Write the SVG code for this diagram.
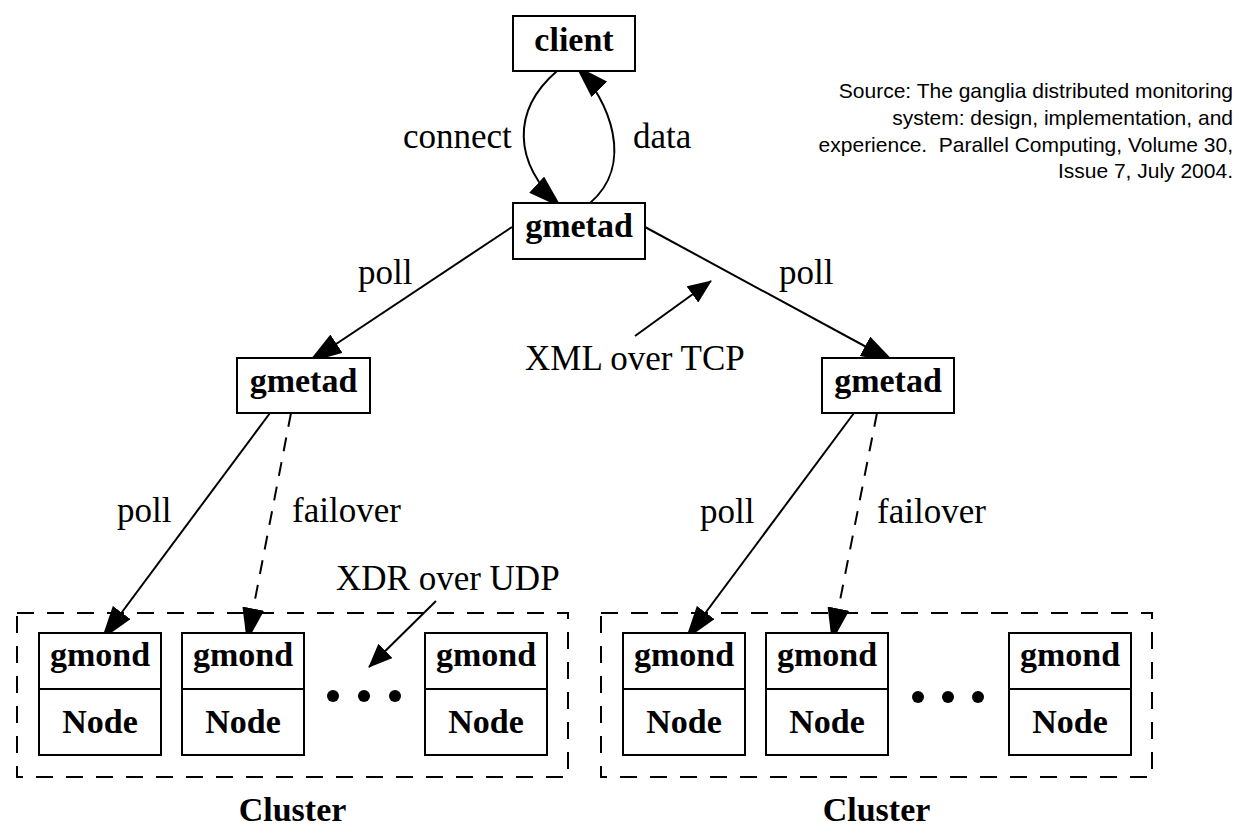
<svg xmlns="http://www.w3.org/2000/svg" width="1245" height="838" viewBox="0 0 1245 838">
<style>
.box{fill:#fff;stroke:#000;stroke-width:2}
.edge{fill:none;stroke:#000;stroke-width:2}
.dash{stroke-dasharray:14 11}
.cl{fill:none;stroke:#000;stroke-width:2;stroke-dasharray:17 13}
.lbl{font-family:"Liberation Serif","Times New Roman",serif;font-size:35px;fill:#000}
.b{font-family:"Liberation Serif","Times New Roman",serif;font-size:34px;font-weight:bold;fill:#000;text-anchor:middle}
.src{font-family:"Liberation Sans",Arial,sans-serif;font-size:21px;fill:#000;text-anchor:end}
</style>
<defs>
<marker id="ah" markerUnits="userSpaceOnUse" markerWidth="34" markerHeight="22" viewBox="0 0 34 22" refX="33" refY="11" orient="auto">
<path d="M0,0 L34,11 L0,22 z" fill="#000"/>
</marker>
<marker id="as" markerUnits="userSpaceOnUse" markerWidth="24" markerHeight="20" viewBox="0 0 24 20" refX="23" refY="10" orient="auto">
<path d="M0,0 L24,10 L0,20 z" fill="#000"/>
</marker>
</defs>
<rect width="1245" height="838" fill="#fff"/>

<g id="connectors">
<path class="edge" d="M557,71 C512,110 512,162 561,207" marker-end="url(#ah)"/>
<path class="edge" d="M590,203 C635,165 610,100 576,66" marker-end="url(#ah)"/>
<line class="edge" x1="512" y1="227" x2="309" y2="362" marker-end="url(#ah)"/>
<line class="edge" x1="645" y1="227" x2="894" y2="362" marker-end="url(#ah)"/>
<line class="edge" x1="270" y1="413" x2="102" y2="639" marker-end="url(#ah)"/>
<line class="edge dash" x1="291" y1="413" x2="247" y2="641" marker-end="url(#ah)"/>
<line class="edge" x1="854" y1="413" x2="686" y2="639" marker-end="url(#ah)"/>
<line class="edge dash" x1="877" y1="413" x2="832" y2="641" marker-end="url(#ah)"/>
<line class="edge" x1="635" y1="336" x2="711" y2="281" marker-end="url(#as)"/>
<line class="edge" x1="436" y1="601" x2="369" y2="667" marker-end="url(#as)"/>
</g>

<g id="client">
<rect class="box" x="513" y="16" width="122" height="55"/>
<text class="b" x="574" y="51">client</text>
</g>
<g id="gmetad-top">
<rect class="box" x="513" y="203" width="132" height="56"/>
<text class="b" x="579" y="237">gmetad</text>
</g>
<g id="gmetad-left">
<rect class="box" x="237" y="358" width="133" height="55"/>
<text class="b" x="303.5" y="392">gmetad</text>
</g>
<g id="gmetad-right">
<rect class="box" x="822" y="358" width="132" height="55"/>
<text class="b" x="888" y="392">gmetad</text>
</g>

<g id="cluster-left">
<rect class="cl" x="17" y="613" width="551" height="164"/>
<text class="b" x="292.5" y="821">Cluster</text>
</g>
<g id="cluster-right">
<rect class="cl" x="601" y="613" width="551" height="164"/>
<text class="b" x="876.5" y="821">Cluster</text>
</g>

<g id="node-l1">
<rect class="box" x="39" y="633" width="122" height="122"/>
<line class="edge" x1="39" y1="689" x2="161" y2="689" stroke-width="3"/>
<text class="b" x="100" y="666">gmond</text>
<text class="b" x="100" y="733">Node</text>
</g>
<g id="node-l2">
<rect class="box" x="182" y="633" width="122" height="122"/>
<line class="edge" x1="182" y1="689" x2="304" y2="689" stroke-width="3"/>
<text class="b" x="243" y="666">gmond</text>
<text class="b" x="243" y="733">Node</text>
</g>
<g id="node-l3">
<rect class="box" x="425" y="633" width="122" height="122"/>
<line class="edge" x1="425" y1="689" x2="547" y2="689" stroke-width="3"/>
<text class="b" x="486" y="666">gmond</text>
<text class="b" x="486" y="733">Node</text>
</g>
<g id="node-r1">
<rect class="box" x="623" y="633" width="122" height="122"/>
<line class="edge" x1="623" y1="689" x2="745" y2="689" stroke-width="3"/>
<text class="b" x="684" y="666">gmond</text>
<text class="b" x="684" y="733">Node</text>
</g>
<g id="node-r2">
<rect class="box" x="766" y="633" width="122" height="122"/>
<line class="edge" x1="766" y1="689" x2="888" y2="689" stroke-width="3"/>
<text class="b" x="827" y="666">gmond</text>
<text class="b" x="827" y="733">Node</text>
</g>
<g id="node-r3">
<rect class="box" x="1009" y="633" width="122" height="122"/>
<line class="edge" x1="1009" y1="689" x2="1131" y2="689" stroke-width="3"/>
<text class="b" x="1070" y="666">gmond</text>
<text class="b" x="1070" y="733">Node</text>
</g>

<g id="dots" fill="#000">
<circle cx="333" cy="696" r="6"/>
<circle cx="364" cy="696" r="6"/>
<circle cx="395" cy="696" r="6"/>
<circle cx="918" cy="697" r="6"/>
<circle cx="948" cy="697" r="6"/>
<circle cx="978" cy="697" r="6"/>
</g>

<g id="labels">
<text class="lbl" x="403" y="148">connect</text>
<text class="lbl" x="633" y="148">data</text>
<text class="lbl" x="358" y="284">poll</text>
<text class="lbl" x="779" y="284">poll</text>
<text class="lbl" x="525" y="370">XML over TCP</text>
<text class="lbl" x="117" y="522">poll</text>
<text class="lbl" x="292" y="522">failover</text>
<text class="lbl" x="700" y="523">poll</text>
<text class="lbl" x="877" y="523">failover</text>
<text class="lbl" x="336" y="590">XDR over UDP</text>
</g>

<g id="source">
<text class="src" x="1233" y="98">Source: The ganglia distributed monitoring</text>
<text class="src" x="1233" y="125">system: design, implementation, and</text>
<text class="src" x="1233" y="152" xml:space="preserve">experience.  Parallel Computing, Volume 30,</text>
<text class="src" x="1233" y="178">Issue 7, July 2004.</text>
</g>
</svg>
